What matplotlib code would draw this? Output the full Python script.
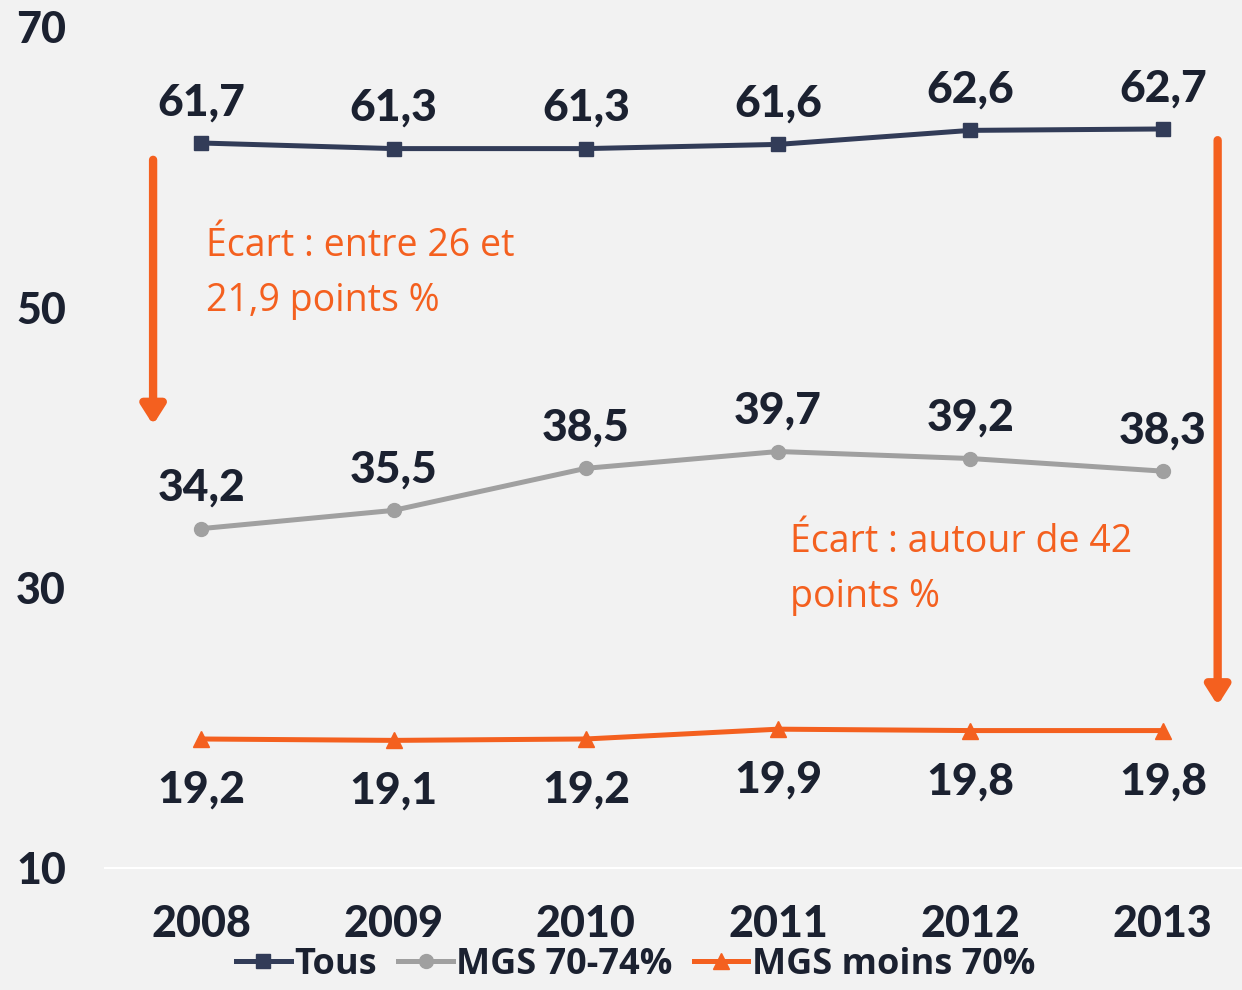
import matplotlib
matplotlib.use("Agg")
import matplotlib.pyplot as plt
import numpy as np

years = ["2008", "2009", "2010", "2011", "2012", "2013"]
tous = [61.7, 61.3, 61.3, 61.6, 62.6, 62.7]
mgs_70_74 = [34.2, 35.5, 38.5, 39.7, 39.2, 38.3]
mgs_moins_70 = [19.2, 19.1, 19.2, 19.9, 19.8, 19.8]
yticks = [10, 30, 50, 70]

bg = "#f2f2f2"
navy = "#323c58"
grey = "#a0a0a0"
orange = "#f4601f"
txt = "#1b2130"

plt.rcParams['font.family'] = ['Lato', 'DejaVu Sans']

fig = plt.figure(figsize=(12.42, 9.9), dpi=100, facecolor=bg)
ax = fig.add_axes([105 / 1242, 122 / 990, 1154 / 1242, 841.4 / 990])
ax.set_facecolor(bg)

x = np.arange(len(years))

ax.plot(x, tous, color=navy, lw=3.6, marker="s", ms=10, label="Tous", zorder=3)
ax.plot(x, mgs_70_74, color=grey, lw=3.6, marker="o", ms=10, label="MGS 70-74%", zorder=3)
ax.plot(x, mgs_moins_70, color=orange, lw=3.6, marker="^", ms=11, label="MGS moins 70%", zorder=3)

def fmt(v):
    return f"{v:.1f}".replace(".", ",")

for xi, v in zip(x, tous):
    ax.annotate(fmt(v), (xi, v), xytext=(0, 15), textcoords="offset points",
                ha="center", va="bottom", fontsize=32, fontweight="black", color=txt)
for xi, v in zip(x, mgs_70_74):
    ax.annotate(fmt(v), (xi, v), xytext=(0, 15), textcoords="offset points",
                ha="center", va="bottom", fontsize=32, fontweight="black", color=txt)
for xi, v in zip(x, mgs_moins_70):
    ax.annotate(fmt(v), (xi, v), xytext=(0, -22), textcoords="offset points",
                ha="center", va="top", fontsize=32, fontweight="black", color=txt)

# gap arrows and notes
arrow_kw = dict(arrowstyle="-|>,head_length=1.1,head_width=0.7", color=orange, lw=6, shrinkA=0, shrinkB=0)
ax.annotate("", xy=(-0.25, 41.6), xytext=(-0.25, 60.5), arrowprops=arrow_kw)
ax.annotate("", xy=(5.285, 21.6), xytext=(5.285, 61.9), arrowprops=arrow_kw)

ax.text(0.025, 52.4, "Écart : entre 26 et\n21,9 points %", color=orange, fontsize=27,
        family=['Open Sans', 'DejaVu Sans'], ha="left", va="center", linespacing=1.57)
ax.text(3.06, 31.3, "Écart : autour de 42\npoints %", color=orange, fontsize=27,
        family=['Open Sans', 'DejaVu Sans'], ha="left", va="center", linespacing=1.57)

ax.set_xlim(-0.5, 5.5)
ax.set_ylim(10, 70)
ax.set_xticks(x)
ax.set_xticklabels(years, fontsize=31, fontweight="black", color=txt)
ax.set_yticks(yticks)
ax.set_yticklabels([str(t) for t in yticks], fontsize=31, fontweight="black", color=txt)
ax.tick_params(axis="both", length=0)
ax.tick_params(axis="x", pad=26)
ax.tick_params(axis="y", pad=28)

for s in ["top", "right", "left"]:
    ax.spines[s].set_visible(False)
ax.spines["bottom"].set_color("white")
ax.spines["bottom"].set_linewidth(1.5)

leg = fig.legend(loc="center", bbox_to_anchor=(0.512, 25 / 990), ncol=3, frameon=False,
                 prop={'family': ['Open Sans', 'DejaVu Sans'], 'weight': 'bold', 'size': 26},
                 handlelength=1.5, handletextpad=0.1, columnspacing=0.6,
                 labelcolor=txt, borderpad=0.1)

fig.savefig("out.png", dpi=100, facecolor=bg)
